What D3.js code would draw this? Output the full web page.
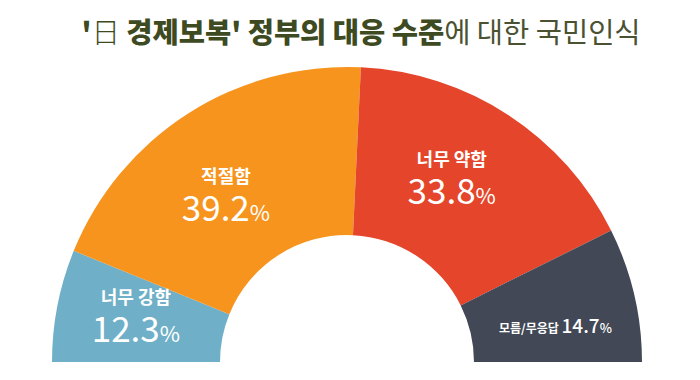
<!DOCTYPE html>
<html><head><meta charset="utf-8">
<script src="https://cdn.jsdelivr.net/npm/d3@7"></script>
<style>body{margin:0;background:#fff}svg{display:block}</style>
</head><body>
<svg id="c" width="700" height="380"></svg>
<script>
const categories = ["너무 강함", "적절함", "너무 약함", "모름/무응답"];
const values = [12.3, 39.2, 33.8, 14.7];
const colors = ["#6FAFC7", "#F7941E", "#E5452A", "#424856"];

const svg = d3.select("#c");
const cx = 347, cy = 362, rOuter = 295, rInner = 127;
const F = "'Noto Sans CJK KR','Noto Sans',sans-serif";

// Title
const title = svg.append("text").attr("x", 361).attr("y", 43)
  .attr("text-anchor", "middle").attr("font-family", F).attr("font-size", 28.5)
  .attr("fill", "#3e4a22");
title.append("tspan").attr("font-weight", 900).text("'");
title.append("tspan").attr("font-weight", 300).text("日 ");
title.append("tspan").attr("font-weight", 900).text("경제보복' 정부의 대응 수준");
title.append("tspan").attr("font-weight", 400).attr("fill", "#4a5232").text("에 대한 국민인식");

const pie = d3.pie().sort(null).startAngle(-Math.PI/2).endAngle(Math.PI/2);
const arcs = pie(values);
const arc = d3.arc().innerRadius(rInner).outerRadius(rOuter);

const g = svg.append("g").attr("transform", `translate(${cx},${cy})`);
g.selectAll("path").data(arcs).enter().append("path")
  .attr("d", arc).attr("fill", (d, i) => colors[i]);

// label layout tweaks (px) relative to centroid at radius 210
const labelR = 210;
const tweak = [[-5, -4], [-8, 12], [-10, -6], [4, 13]];
arcs.forEach((d, i) => {
  const a = (d.startAngle + d.endAngle) / 2;
  const x = Math.sin(a) * labelR + tweak[i][0];
  const y = -Math.cos(a) * labelR + tweak[i][1];
  const lg = g.append("g").attr("transform", `translate(${x},${y})`).attr("fill", "#fff").attr("font-family", F);
  if (i === 3) {
    const t = lg.append("text").attr("text-anchor", "middle").attr("y", 6);
    t.append("tspan").attr("font-size", 12).attr("font-weight", 700).text(categories[i] + " ");
    t.append("tspan").attr("font-size", 19).attr("font-weight", 500).text(values[i].toFixed(1));
    t.append("tspan").attr("font-size", 13).attr("font-weight", 500).text("%");
  } else {
    lg.append("text").attr("text-anchor", "middle").attr("y", -14)
      .attr("font-size", 18).attr("font-weight", 700).text(categories[i]);
    const t = lg.append("text").attr("text-anchor", "middle").attr("y", 24);
    t.append("tspan").attr("font-size", 35).attr("font-weight", 400).text(values[i].toFixed(1));
    t.append("tspan").attr("font-size", 22).attr("font-weight", 400).text("%");
  }
});
</script>
</body></html>
